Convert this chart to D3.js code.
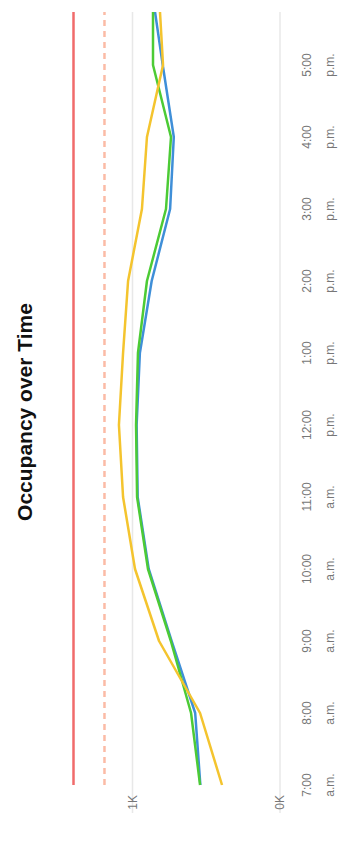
<!DOCTYPE html>
<html>
<head>
<meta charset="utf-8">
<script src="https://cdn.jsdelivr.net/npm/d3@7"></script>
<style>
  body { margin: 0; background: #fff; }
  text { font-family: "Liberation Sans", Arial, sans-serif; }
</style>
</head>
<body>
<script>
// hours of the day (18 = last point, clipped at the plot edge)
const hours = [7, 8, 9, 10, 11, 12, 13, 14, 15, 16, 17, 18];
const tickHours = [7, 8, 9, 10, 11, 12, 13, 14, 15, 16, 17];
const tickTop = ["7:00", "8:00", "9:00", "10:00", "11:00", "12:00", "1:00", "2:00", "3:00", "4:00", "5:00"];
const tickBottom = ["a.m.", "a.m.", "a.m.", "a.m.", "a.m.", "p.m.", "p.m.", "p.m.", "p.m.", "p.m.", "p.m."];

const blueValues   = [540, 575, 735, 890, 965, 972, 950, 870, 745, 720, 795, 866];
const greenValues  = [542, 603, 740, 895, 969, 976, 963, 902, 773, 739, 861, 861];
const yellowValues = [393, 542, 820, 983, 1064, 1092, 1064, 1030, 936, 902, 793, 821];
const capacity     = [1400, 1400, 1400, 1400, 1400, 1400, 1400, 1400, 1400, 1400, 1400, 1400];
const target       = [1190, 1190, 1190, 1190, 1190, 1190, 1190, 1190, 1190, 1190, 1190, 1190];

const valueTicks = [0, 1000];
const valueLabels = ["0K", "1K"];

// chart is laid out normally in a W x H frame and then turned 90deg
const W = 848, H = 357;

const svg = d3.select("body")
  .append("svg")
  .attr("width", 357)
  .attr("height", 848);

const g = svg.append("g")
  .attr("transform", `translate(0,${W}) rotate(-90)`);

const x = d3.scaleLinear().domain([7, 17]).range([63, 783]);
const y = d3.scaleLinear().domain([0, 1000]).range([280, 132.5]);

g.append("defs").append("clipPath")
  .attr("id", "plot")
  .append("rect")
  .attr("x", 35).attr("y", 0)
  .attr("width", 801).attr("height", 290);

// grid
g.selectAll(".grid")
  .data(valueTicks)
  .enter()
  .append("line")
  .attr("x1", 35).attr("x2", 836)
  .attr("y1", d => y(d)).attr("y2", d => y(d))
  .attr("stroke", "#e8e8e8")
  .attr("stroke-width", 1.5);

g.selectAll(".vlabel")
  .data(valueTicks)
  .enter()
  .append("text")
  .attr("x", 53)
  .attr("y", d => y(d) + 4)
  .attr("text-anchor", "end")
  .attr("font-size", 12)
  .attr("fill", "#777")
  .text((d, i) => valueLabels[i]);

// time labels
const tl = g.selectAll(".tlabel")
  .data(tickHours)
  .enter()
  .append("g");
tl.append("text")
  .attr("x", d => x(d)).attr("y", 311)
  .attr("text-anchor", "middle")
  .attr("font-size", 12)
  .attr("fill", "#777")
  .text((d, i) => tickTop[i]);
tl.append("text")
  .attr("x", d => x(d)).attr("y", 334)
  .attr("text-anchor", "middle")
  .attr("font-size", 12)
  .attr("fill", "#777")
  .text((d, i) => tickBottom[i]);

const line = d3.line()
  .x((d, i) => x(hours[i]))
  .y(d => y(d));

const plot = g.append("g").attr("clip-path", "url(#plot)");

plot.append("path").datum(capacity)
  .attr("d", line).attr("fill", "none")
  .attr("stroke", "#f06b6b").attr("stroke-width", 2.5);

plot.append("path").datum(target)
  .attr("d", line).attr("fill", "none")
  .attr("stroke", "#fbbba6").attr("stroke-width", 2.5)
  .attr("stroke-dasharray", "6,5");

const series = [
  { values: blueValues, color: "#3f8fd8" },
  { values: greenValues, color: "#4ccb35" },
  { values: yellowValues, color: "#f4c42e" }
];

plot.selectAll(".series")
  .data(series)
  .enter()
  .append("path")
  .attr("d", d => line(d.values))
  .attr("fill", "none")
  .attr("stroke", d => d.color)
  .attr("stroke-width", 2.5)
  .attr("stroke-linejoin", "round");

g.append("text")
  .attr("x", 436)
  .attr("y", 32)
  .attr("text-anchor", "middle")
  .attr("font-size", 21)
  .attr("font-weight", "bold")
  .attr("fill", "#111")
  .text("Occupancy over Time");
</script>
</body>
</html>
